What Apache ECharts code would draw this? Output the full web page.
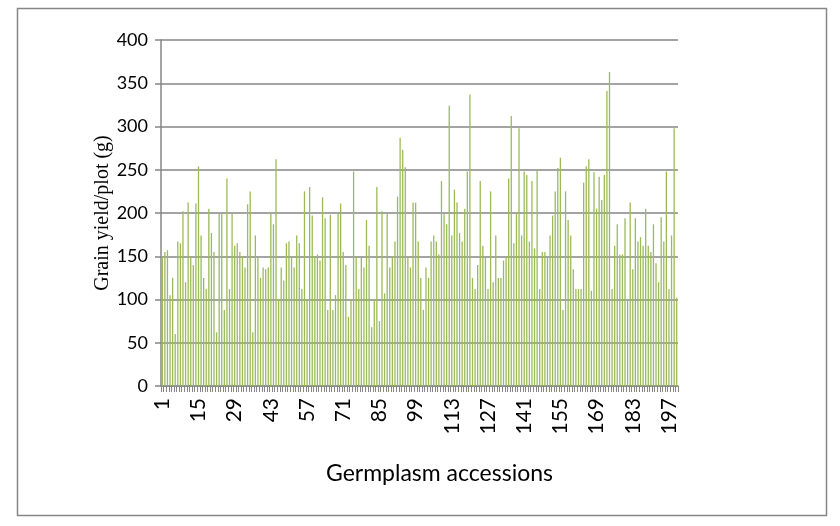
<!DOCTYPE html>
<html>
<head>
<meta charset="utf-8">
<script src="https://cdn.jsdelivr.net/npm/echarts@6/dist/echarts.min.js"></script>
<style>html,body{margin:0;padding:0;background:#fff;}#c{width:840px;height:526px;}</style>
</head>
<body>
<div id="c"></div>
<script>
const yTicks = [0, 50, 100, 150, 200, 250, 300, 350, 400];
const grainYield = [
  149,155,157,105,125,60,167,165,202,120,212,148,140,211,254,174,125,112,205,177,155,62,199,200,88,240,112,
  199,162,165,155,149,137,210,225,62,174,149,125,137,135,137,199,187,262,100,137,122,165,167,149,137,174,165,112,225,
  100,230,197,149,152,145,218,194,88,198,88,105,200,211,155,140,80,99,248,149,112,149,137,192,162,68,99,230,75,
  202,107,199,137,149,167,219,287,273,253,149,137,212,212,167,125,88,137,125,167,174,167,152,237,199,187,324,174,227,
  212,177,167,205,248,337,125,112,140,237,162,149,112,225,120,174,125,125,145,149,240,312,165,199,298,174,248,244,167,
  237,159,249,112,155,155,149,174,197,225,252,264,88,225,192,174,135,112,112,112,235,254,262,110,247,205,242,215,244,
  341,363,112,162,187,152,152,194,99,212,135,194,167,172,162,205,162,155,187,142,120,195,167,248,112,174,298,102
];
const accessions = grainYield.map((v, i) => String(i + 1));
const yAxisTitle = 'Grain yield/plot (g)';
const xAxisTitle = 'Germplasm accessions';

const chart = echarts.init(document.getElementById('c'), null, {renderer: 'canvas'});
chart.setOption({
  animation: false,
  backgroundColor: '#fff',
  grid: {left: 161, top: 40, width: 517, height: 346, containLabel: false},
  xAxis: {
    type: 'category',
    data: accessions,
    boundaryGap: true,
    axisLine: {lineStyle: {color: '#868686', width: 1.5}},
    axisTick: {show: true, interval: 0, length: 6, lineStyle: {color: '#868686', width: 1}},
    axisLabel: {interval: 13, rotate: 90, margin: 12, fontFamily: 'Lato', fontSize: 21, color: '#000'},
    splitLine: {show: false}
  },
  yAxis: {
    type: 'value',
    min: yTicks[0], max: yTicks[yTicks.length - 1], interval: 50,
    axisLine: {show: true, lineStyle: {color: '#868686', width: 1.5}},
    axisTick: {show: true, length: 6, lineStyle: {color: '#868686', width: 1.5}},
    axisLabel: {margin: 13, fontFamily: 'Lato', fontSize: 18, color: '#000'},
    splitLine: {lineStyle: {color: '#868686', width: 1.5}}
  },
  series: [{
    type: 'bar',
    data: grainYield,
    barWidth: 1.3,
    itemStyle: {color: '#9bbb59'}
  }],
  graphic: [
    {type: 'rect', shape: {x: 17.5, y: 8.5, width: 809, height: 507}, style: {fill: 'none', stroke: '#868686', lineWidth: 1.5}, z: -1},
    {type: 'text', x: 103, y: 213, rotation: Math.PI / 2,
     style: {text: yAxisTitle, font: '20px "Liberation Serif"', fill: '#000', align: 'center', verticalAlign: 'middle'}},
    {type: 'text', left: 326, top: 462, style: {text: xAxisTitle, font: '23px Lato', fill: '#000'}}
  ]
});
</script>
</body>
</html>
